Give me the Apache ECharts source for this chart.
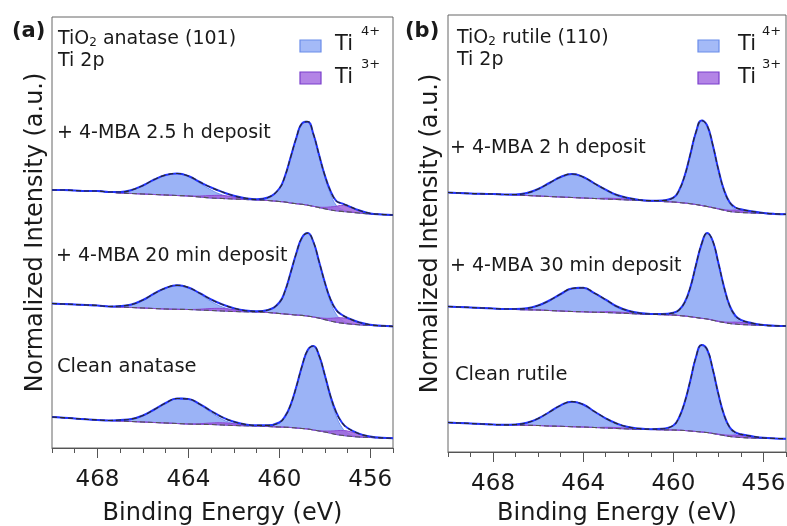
<!DOCTYPE html>
<html><head><meta charset="utf-8">
<script src="https://cdn.jsdelivr.net/npm/echarts@6/dist/echarts.min.js"></script>
<style>html,body{margin:0;padding:0;background:#fff}#c{width:787px;height:526px}</style>
</head><body><div id="c"></div>
<script>
// Binding energy grid (eV)
const energy = [470,469.5,469,468.5,468,467.5,467,466.5,466,465.5,465,464.5,464,463.5,463,462.5,462,461.5,461,460.5,460,
  459.75,459.5,459.25,459,458.75,458.5,458.25,458,457.75,457.5,457.25,457,456.5,456,455.5,455];
const tickLabels = [456, 460, 464, 468];

// (a) anatase: Shirley background, Ti4+ and Ti3+ components (a.u., offset stacked)
const anaTopBg  = [258,258,257.5,257,257,256,255,254.5,254,253.5,253,252.5,252,251,250,249.5,249,248.5,248,247.5,246.5,246,245,244.3,243.7,242.8,241.7,240.4,239.2,238.1,237.2,236.6,236.1,235,234,233.5,233];
const anaTopTi4 = [0,0,0,0,0,0,1,3.5,8.5,15,20,22,20,14,8,3.5,1.2,0.5,0.5,3,13,26,46,66,81,83.5,72,52,32,16,5.5,2,0.8,0.2,0,0,0];
const anaTopTi3 = [0,0,0,0,0,0,0,0,0,0,0,0,0,1,2.5,3,2,0.8,0.2,0,0,0,0,0,0,0,0,0.5,1.5,3,4.5,6,5.5,2.5,0.6,0.1,0];
const anaMidBg  = [144.5,144,143.5,143,142.5,141.5,141,140.5,140,139.5,139,138.7,138.5,138,137.5,137,136.5,136.2,136,135.5,134.5,134,133.5,133,132.6,131.9,131,129.8,128.4,127,125.8,124.9,124.2,123.2,122.6,122.1,121.6];
const anaMidTi4 = [0,0,0,0,0,0,1,3,8,15,21,24,22,16,9,4,1.5,0.5,0.5,2.5,11,23,42,62,78,83,75,56,36,19,8,3,1,0.2,0,0,0];
const anaMidTi3 = [0,0,0,0,0,0,0,0,0,0,0,0,0,0.8,2,2.5,1.8,0.7,0.2,0,0,0,0,0,0,0,0,0.5,1.3,2.7,4.3,5.3,5,2.3,0.6,0.1,0];
const anaBotBg  = [31,30.3,29.5,28.7,28,27.5,27,26.5,26,25.5,25,24.5,24,23.7,23.5,23,22.5,22.2,22,21.5,21,20.8,20.5,20,19.5,19,18,17,16,14.8,13.5,12.7,12,11,10.5,10,9.7];
const anaBotTi4 = [0,0,0,0,0,0,1,2.5,6.5,13,20,25,25,19.5,12,5.5,2,0.6,0.5,1.2,4.5,10.8,22.8,41.5,62.5,79,84,75,56,35,18.5,8,3,0.4,0,0,0];
const anaBotTi3 = [0,0,0,0,0,0,0,0,0,0,0,0,0,0.6,1.5,2.2,1.8,0.8,0.2,0,0,0,0,0,0,0,0,0.3,1,2.2,3.8,4.8,5,3,1,0.2,0];

// (b) rutile
const rutTopBg  = [259.5,259,258.5,258.2,258,257.5,257,256.5,256,255.5,255,254.5,254,253.5,253,252.5,252,251.5,251,250.5,250,249.5,249,248.3,247.5,246.5,245.5,244.3,243,241.8,240.5,240,239.5,239,238.5,238,237.7];
const rutTopTi4 = [0,0,0,0,0,0,0.5,2.5,7,13.5,20,23.5,21,15,8.5,3.5,1.2,0.3,0.3,1,4.3,12,27,49,72,85,81,62.5,39,19.5,7.9,2.6,1.2,0.3,0,0,0];
const rutTopTi3 = [0,0,0,0,0,0,0,0,0,0,0,0,0,0,0.8,1,0.8,0.3,0,0,0,0,0,0,0,0,0,0.2,0.4,0.6,1.3,1.9,2,1.3,0.5,0.1,0];
const rutMidBg  = [145.5,145,144.5,144,143.5,143,142.5,142.2,142,141.5,141,140.5,140.2,139.8,139.5,139,138.5,138,137.7,137.3,137,136.5,136,135.3,134.5,133.7,133,131.8,130.5,129.5,128.5,128,127.5,127,126.5,126.2,126];
const rutMidTi4 = [0,0,0,0,0,0,0.5,1.5,4.5,10,17,23,24,19,12,5.5,2,0.6,0.3,0.6,2.2,5.5,13.5,29,52,74,86,79,58,35,16.5,6.5,2.5,0.5,0,0,0];
const rutMidTi3 = [0,0,0,0,0,0,0,0,0,0,0,0,0,0,0.8,1,0.8,0.3,0,0,0,0,0,0,0,0,0,0.2,0.4,0.6,1.3,1.9,2,1.3,0.5,0.1,0];
const rutBotBg  = [29.5,29,28.5,28,27.5,27.2,27,26.7,26.5,26,25.7,25.3,25,24.5,24,23.5,23,22.7,22.5,22.2,22,21.8,21.5,21,20.5,20,19.5,18.5,17.5,16.5,15.5,15,14.5,14,13.7,13.5,13.3];
const rutBotTi4 = [0,0,0,0,0,0,0.5,2.5,7,14,21,25,22.5,16,9,4,1.3,0.4,0.3,1,4.5,12.5,28,50,74,87,83,64,40,20,8,2.7,1.2,0.3,0,0,0];
const rutBotTi3 = [0,0,0,0,0,0,0,0,0,0,0,0,0,0,0.7,0.9,0.7,0.3,0,0,0,0,0,0,0,0,0,0.2,0.4,0.7,1.3,1.9,2,1.4,0.5,0.1,0];

const anataseLabels = ['+ 4-MBA 2.5 h deposit', '+ 4-MBA 20 min deposit', 'Clean anatase'];
const rutileLabels  = ['+ 4-MBA 2 h deposit', '+ 4-MBA 30 min deposit', 'Clean rutile'];
const legendSup = ['4+', '3+'];

const F = '"DejaVu Sans", sans-serif';
const TXT = '#1a1a1a';
const SM = 0.45;

function pairs(ys) { return energy.map((e, i) => [e, ys[i]]); }
function band(xi, yi, lower, comp, fill, stroke, z) {
  const upper = lower.map((b, i) => b + comp[i]);
  return {
    type: 'custom', coordinateSystem: 'cartesian2d', xAxisIndex: xi, yAxisIndex: yi, z: z, silent: true,
    data: energy.map((e, i) => [e, lower[i], upper[i]]),
    encode: { x: 0, y: [1, 2] },
    renderItem: function (params, api) {
      if (params.dataIndex !== 0) return null;
      const top = [], bot = [];
      for (let i = 0; i < energy.length; i++) {
        top.push(api.coord([energy[i], upper[i]]));
        bot.push(api.coord([energy[i], lower[i]]));
      }
      return { type: 'polygon', shape: { points: top.concat(bot.reverse()), smooth: SM },
        style: { fill: fill, stroke: stroke, lineWidth: 1 } };
    }
  };
}
function line(xi, yi, ys, style, z) {
  return { type: 'line', xAxisIndex: xi, yAxisIndex: yi, data: pairs(ys), symbol: 'none', smooth: SM,
    lineStyle: style, z: z, silent: true, animation: false };
}
function spectrum(xi, yi, bg, t4, t3) {
  const env = bg.map((b, i) => b + t4[i] + t3[i]);
  return [
    band(xi, yi, bg, t4, '#9bb3f6', '#7092f2', 2),
    band(xi, yi, bg, t3, 'rgba(160,100,220,0.85)', '#8a48d4', 3),
    line(xi, yi, bg, { color: '#555', width: 1.1, type: [5, 3] }, 4),
    line(xi, yi, env, { color: '#2233ff', width: 2 }, 5),
    line(xi, yi, env, { color: '#2a2a2a', width: 1.2, type: [5, 3] }, 6)
  ];
}

function xMinor(gi, nameGap) {
  return { type: 'value', gridIndex: gi, min: 455, max: 470, interval: 1, inverse: true, position: 'bottom',
    axisLine: { show: true, onZero: false, lineStyle: { color: '#555', width: 1 } },
    axisTick: { show: true, length: 5, lineStyle: { color: '#555', width: 1 } },
    axisLabel: { show: true, margin: 21, fontSize: 23, fontFamily: F, color: TXT,
      formatter: v => (tickLabels.indexOf(v) >= 0 ? String(v) : '') },
    splitLine: { show: false },
    name: 'Binding Energy (eV)', nameLocation: 'middle', nameGap: nameGap, nameMoveOverlap: false,
    nameTextStyle: { fontSize: 24, fontFamily: F, color: TXT } };
}
function xMajor(gi) {
  return { type: 'value', gridIndex: gi, min: 455, max: 470, interval: 1, inverse: true, position: 'bottom',
    axisLine: { show: false, onZero: false },
    axisTick: { show: true, length: 10, customValues: tickLabels, lineStyle: { color: '#555', width: 1 } },
    axisLabel: { show: false }, splitLine: { show: false } };
}
function yAx(gi, max, gap) {
  return { type: 'value', gridIndex: gi, min: 0, max: max,
    axisLine: { show: false }, axisTick: { show: false }, axisLabel: { show: false }, splitLine: { show: false },
    name: 'Normalized Intensity (a.u.)', nameLocation: 'middle', nameRotate: 90, nameGap: gap, nameMoveOverlap: false,
    nameTextStyle: { fontSize: 24, fontFamily: F, color: TXT } };
}

function txt(x, y, s, size, weight) {
  return { type: 'text', x: x, y: y, silent: true,
    style: { text: s, fontSize: size, fontFamily: F, fontWeight: weight || 'normal', fill: TXT, align: 'left', verticalAlign: 'middle' } };
}
function title(x, y, rest) {
  return { type: 'text', x: x, y: y, silent: true,
    style: { text: '{n|TiO}{s|2}{n|' + rest + '}', fill: TXT, align: 'left', verticalAlign: 'middle',
      rich: { n: { fontSize: 19, fontFamily: F, fill: TXT, lineHeight: 22, verticalAlign: 'bottom' },
              s: { fontSize: 12, fontFamily: F, fill: TXT, lineHeight: 16, verticalAlign: 'bottom' } } } };
}
function legendBlock(rx, tx, sx) {
  return [
    { type: 'rect', silent: true, shape: { x: rx, y: 40, width: 21, height: 12 }, style: { fill: '#a4baf7', stroke: '#6b8de9', lineWidth: 1.2 } },
    { type: 'rect', silent: true, shape: { x: rx, y: 72, width: 21, height: 12 }, style: { fill: '#b384e6', stroke: '#7b3fcc', lineWidth: 1.2 } },
    txt(tx, 45, 'Ti', 21), txt(sx, 32, legendSup[0], 13),
    txt(tx, 78, 'Ti', 21), txt(sx, 65, legendSup[1], 13)
  ];
}

const option = {
  backgroundColor: '#fff',
  animation: false,
  grid: [
    { left: 52, top: 17, width: 341, height: 431, show: true, borderColor: '#666', borderWidth: 1, backgroundColor: 'transparent', outerBoundsMode: 'none', containLabel: false },
    { left: 448, top: 15, width: 338, height: 437, show: true, borderColor: '#666', borderWidth: 1, backgroundColor: 'transparent', outerBoundsMode: 'none', containLabel: false }
  ],
  xAxis: [xMinor(0, 54), xMajor(0), xMinor(1, 50), xMajor(1)],
  yAxis: [yAx(0, 431, 4), yAx(1, 437, 5)],
  series: [].concat(
    spectrum(0, 0, anaTopBg, anaTopTi4, anaTopTi3),
    spectrum(0, 0, anaMidBg, anaMidTi4, anaMidTi3),
    spectrum(0, 0, anaBotBg, anaBotTi4, anaBotTi3),
    spectrum(2, 1, rutTopBg, rutTopTi4, rutTopTi3),
    spectrum(2, 1, rutMidBg, rutMidTi4, rutMidTi3),
    spectrum(2, 1, rutBotBg, rutBotTi4, rutBotTi3)
  ),
  graphic: { elements: [].concat(
    [ txt(12, 32, '(a)', 21, 'bold'), title(58, 38, ' anatase (101)'), txt(58, 61, 'Ti 2p', 19),
      txt(57, 133, anataseLabels[0], 19), txt(56, 256, anataseLabels[1], 19), txt(57, 367, anataseLabels[2], 19.5),
      txt(405, 32, '(b)', 21, 'bold'), title(457, 37, ' rutile (110)'), txt(457, 60, 'Ti 2p', 19),
      txt(450, 148, rutileLabels[0], 19), txt(450, 266, rutileLabels[1], 19), txt(455, 375, rutileLabels[2], 19.5) ],
    legendBlock(300, 335, 361),
    legendBlock(698, 738, 762)
  ) }
};
const chart = echarts.init(document.getElementById('c'), null, { renderer: 'canvas' });
chart.setOption(option);
</script></body></html>
